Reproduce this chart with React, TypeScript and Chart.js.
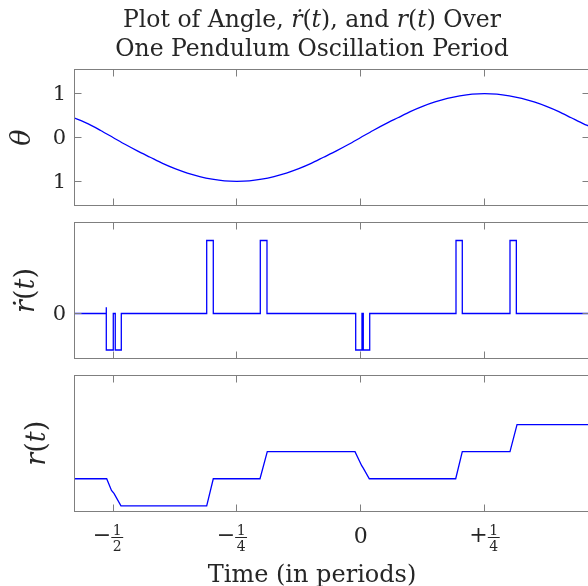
import React, { useEffect, useRef } from "react";
import { Chart, registerables } from "chart.js";
Chart.register(...registerables);

const FONT = '"DejaVu Serif", serif';
const TEXT = "#262626";
const AXIS = "#7f7f7f";
const LINE = "#0000ff";

// ---- data (time in periods) ----
const timeMin = -0.5788;
const timeMax = 0.4609;
const xTickValues = [-0.5, -0.25, 0, 0.25];
const xTickLabels = ["−1/2", "−1/4", "0", "+1/4"];

const thetaTimes = [-0.5788, -0.55, -0.525, -0.5, -0.475, -0.45, -0.425, -0.4, -0.375, -0.35, -0.325, -0.3, -0.275, -0.25, -0.225, -0.2, -0.175, -0.15, -0.125, -0.1, -0.075, -0.05, -0.025, 0, 0.025, 0.05, 0.075, 0.1, 0.125, 0.15, 0.175, 0.2, 0.225, 0.25, 0.275, 0.3, 0.325, 0.35, 0.375, 0.4, 0.425, 0.45, 0.4609];
const thetaValues = [0.45, 0.31, 0.16, 0.0, -0.16, -0.31, -0.45, -0.59, -0.71, -0.81, -0.89, -0.95, -0.99, -1.0, -0.99, -0.95, -0.89, -0.81, -0.71, -0.59, -0.45, -0.31, -0.16, 0.0, 0.16, 0.31, 0.45, 0.59, 0.71, 0.81, 0.89, 0.95, 0.99, 1.0, 0.99, 0.95, 0.89, 0.81, 0.71, 0.59, 0.45, 0.31, 0.26];
const thetaTicks = [-1, 0, 1];
const thetaTickLabels = ["1", "0", "1"];

const rdotTimes = [-0.5788, -0.5136, -0.5136, -0.5136, -0.4995, -0.4995, -0.4955, -0.4955, -0.4833, -0.4833, -0.3109, -0.3109, -0.2976, -0.2976, -0.2027, -0.2027, -0.1892, -0.1892, -0.0101, -0.0101, 0.0026, 0.0026, 0.0052, 0.0052, 0.0182, 0.0182, 0.1924, 0.1924, 0.2051, 0.2051, 0.3014, 0.3014, 0.3142, 0.3142, 0.4609];
const rdotValues = [0, 0, 0.17, -1, -1, 0, 0, -1, -1, 0, 0, 2, 2, 0, 0, 2, 2, 0, 0, -1, -1, 0, 0, -1, -1, 0, 0, 2, 2, 0, 0, 2, 2, 0, 0];
const rdotTicks = [0];
const rdotTickLabels = ["0"];

const rTimes = [-0.5788, -0.5128, -0.5031, -0.4981, -0.484, -0.3109, -0.2976, -0.2033, -0.1886, -0.0115, 0.002, 0.0052, 0.0174, 0.1918, 0.2051, 0.3014, 0.3156, 0.4609];
const rValues = [2, 2, 1.57, 1.46, 1, 1, 2, 2, 3, 3, 2.48, 2.39, 2, 2, 3, 3, 4, 4];
const rTicks: number[] = [];
const rTickLabels: string[] = [];

type Seg = [string, boolean];
const titleLine1: Seg[] = [["Plot of Angle, ", false], ["r\u0307", true], ["(", false], ["t", true], ["), and ", false], ["r", true], ["(", false], ["t", true], [") Over", false]];
const titleLine2: Seg[] = [["One Pendulum Oscillation Period", false]];
const xLabel = "Time (in periods)";
const thetaLabel: Seg[] = [["θ", true]];
const rdotLabel: Seg[] = [["r\u0307", true], ["(", false], ["t", true], [")", false]];
const rLabel: Seg[] = [["r", true], ["(", false], ["t", true], [")", false]];

const CANVAS_W = 592;

interface Panel {
  top: number;
  height: number;
  padTop: number;
  padBottom: number;
  times: number[];
  values: number[];
  yMin: number;
  yMax: number;
  yTicks: number[];
  yTickLabels: string[];
  yLabel: Seg[];
  yLabelX: number;
  tension: number;
  title?: boolean;
  xLabels?: boolean;
}

const panels: Panel[] = [
  { top: 0, height: 214, padTop: 69.5, padBottom: 8.5, times: thetaTimes, values: thetaValues, yMin: -1.55, yMax: 1.55, yTicks: thetaTicks, yTickLabels: thetaTickLabels, yLabel: thetaLabel, yLabelX: 23, tension: 0.3, title: true },
  { top: 214, height: 150, padTop: 8.5, padBottom: 5.5, times: rdotTimes, values: rdotValues, yMin: -1.233, yMax: 2.493, yTicks: rdotTicks, yTickLabels: rdotTickLabels, yLabel: rdotLabel, yLabelX: 26.5, tension: 0 },
  { top: 364, height: 222, padTop: 11, padBottom: 74.5, times: rTimes, values: rValues, yMin: 0.79, yMax: 5.83, yTicks: rTicks, yTickLabels: rTickLabels, yLabel: rLabel, yLabelX: 38, tension: 0, xLabels: true },
];

function segFont(size: number, italic: boolean) {
  return `${italic ? "italic " : ""}${size}px ${FONT}`;
}

function drawRich(ctx: CanvasRenderingContext2D, segs: Seg[], cx: number, y: number, size: number) {
  const widths = segs.map(([t, it]) => {
    ctx.font = segFont(size, it);
    return ctx.measureText(t).width;
  });
  const total = widths.reduce((a, b) => a + b, 0);
  let x = cx - total / 2;
  ctx.textAlign = "left";
  segs.forEach(([t, it], i) => {
    ctx.font = segFont(size, it);
    ctx.fillText(t, x, y);
    x += widths[i];
  });
}

function drawTickLabel(ctx: CanvasRenderingContext2D, label: string, tickPx: number) {
  const m = label.match(/^([−+]?)(\d+)(?:\/(\d+))?$/);
  if (!m) return;
  const sign = m[1];
  const num = m[2];
  const den = m[3];
  ctx.fillStyle = TEXT;
  if (!den) {
    ctx.font = `22px ${FONT}`;
    ctx.textAlign = "center";
    ctx.textBaseline = "alphabetic";
    ctx.fillText(sign + num, tickPx, 543);
    return;
  }
  // negative labels sit slightly left of their tick in the reference
  const cx = sign === "−" ? tickPx - 5 : tickPx;
  ctx.font = `22px ${FONT}`;
  const ws = sign ? ctx.measureText(sign).width : 0;
  ctx.font = `14px ${FONT}`;
  const wf = Math.max(ctx.measureText(num).width, ctx.measureText(den).width) + 3;
  const total = ws + wf;
  const start = cx - total / 2;
  ctx.font = `22px ${FONT}`;
  ctx.textAlign = "left";
  ctx.textBaseline = "middle";
  ctx.fillText(sign, start, 536.5);
  ctx.fillRect(start + ws, 537, wf, 1);
  ctx.font = `14px ${FONT}`;
  ctx.textAlign = "center";
  ctx.textBaseline = "alphabetic";
  ctx.fillText(num, start + ws + wf / 2, 535);
  ctx.fillText(den, start + ws + wf / 2, 550.5);
}

function makeDecor(p: Panel) {
  return {
    id: "decor",
    afterDraw(chart: any) {
      const ctx: CanvasRenderingContext2D = chart.ctx;
      const a = chart.chartArea;
      const xs = chart.scales.x;
      const ys = chart.scales.y;
      ctx.save();
      const L = Math.floor(a.left) + 0.5;
      const R = Math.floor(a.right) + 0.5;
      const T = Math.floor(a.top) + 0.5;
      const B = Math.floor(a.bottom) + 0.5;
      ctx.strokeStyle = AXIS;
      ctx.lineWidth = 1;
      ctx.strokeRect(L, T, R - L, B - T);
      const tl = 7;
      ctx.beginPath();
      xTickValues.forEach((v) => {
        const px = Math.floor(xs.getPixelForValue(v)) + 0.5;
        ctx.moveTo(px, B);
        ctx.lineTo(px, B - tl);
        ctx.moveTo(px, T);
        ctx.lineTo(px, T + tl);
      });
      p.yTicks.forEach((v) => {
        const py = Math.floor(ys.getPixelForValue(v)) + 0.5;
        ctx.moveTo(L, py);
        ctx.lineTo(L + tl, py);
        ctx.moveTo(R, py);
        ctx.lineTo(R - tl, py);
      });
      ctx.stroke();

      ctx.fillStyle = TEXT;
      // y tick labels
      ctx.font = `21px ${FONT}`;
      ctx.textAlign = "right";
      ctx.textBaseline = "middle";
      p.yTicks.forEach((v, i) => {
        ctx.fillText(p.yTickLabels[i], a.left - 8, ys.getPixelForValue(v) + 1);
      });
      // y label (rotated)
      ctx.save();
      ctx.translate(p.yLabelX, (a.top + a.bottom) / 2);
      ctx.rotate(-Math.PI / 2);
      ctx.textBaseline = "middle";
      drawRich(ctx, p.yLabel, 0, 0, 27);
      ctx.restore();

      // page-coordinate texts
      ctx.translate(0, -p.top);
      if (p.title) {
        ctx.textBaseline = "alphabetic";
        drawRich(ctx, titleLine1, 312, 27, 23.5);
        drawRich(ctx, titleLine2, 312, 56, 23.5);
      }
      if (p.xLabels) {
        xTickValues.forEach((v, i) => {
          drawTickLabel(ctx, xTickLabels[i], xs.getPixelForValue(v));
        });
        ctx.fillStyle = TEXT;
        ctx.font = `24px ${FONT}`;
        ctx.textAlign = "center";
        ctx.textBaseline = "alphabetic";
        ctx.fillText(xLabel, 312, 582);
      }
      ctx.restore();
    },
  };
}

function PanelChart({ p }: { p: Panel }) {
  const ref = useRef<HTMLCanvasElement | null>(null);
  useEffect(() => {
    if (!ref.current) return;
    const chart = new Chart(ref.current, {
      type: "line",
      data: {
        datasets: [
          {
            data: p.times.map((t, i) => ({ x: t, y: p.values[i] })),
            borderColor: LINE,
            borderWidth: 1.3,
            pointRadius: 0,
            tension: p.tension,
            fill: false,
          },
        ],
      },
      options: {
        responsive: false,
        animation: false,
        events: [],
        layout: { padding: { left: 74, right: 3, top: p.padTop, bottom: p.padBottom } },
        scales: {
          x: { type: "linear", min: timeMin, max: timeMax, display: false },
          y: { type: "linear", min: p.yMin, max: p.yMax, display: false },
        },
        plugins: { legend: { display: false }, tooltip: { enabled: false }, title: { display: false } },
      },
      plugins: [makeDecor(p)],
    } as any);
    return () => chart.destroy();
  }, [p]);
  return (
    <canvas
      ref={ref}
      width={CANVAS_W}
      height={p.height}
      style={{ position: "absolute", left: 0, top: p.top, width: CANVAS_W, height: p.height }}
    />
  );
}

export default function App() {
  return (
    <div
      style={{
        position: "absolute",
        left: 0,
        top: 0,
        width: 588,
        height: 586,
        overflow: "hidden",
        background: "#ffffff",
      }}
    >
      {panels.map((p, i) => (
        <PanelChart key={i} p={p} />
      ))}
    </div>
  );
}
